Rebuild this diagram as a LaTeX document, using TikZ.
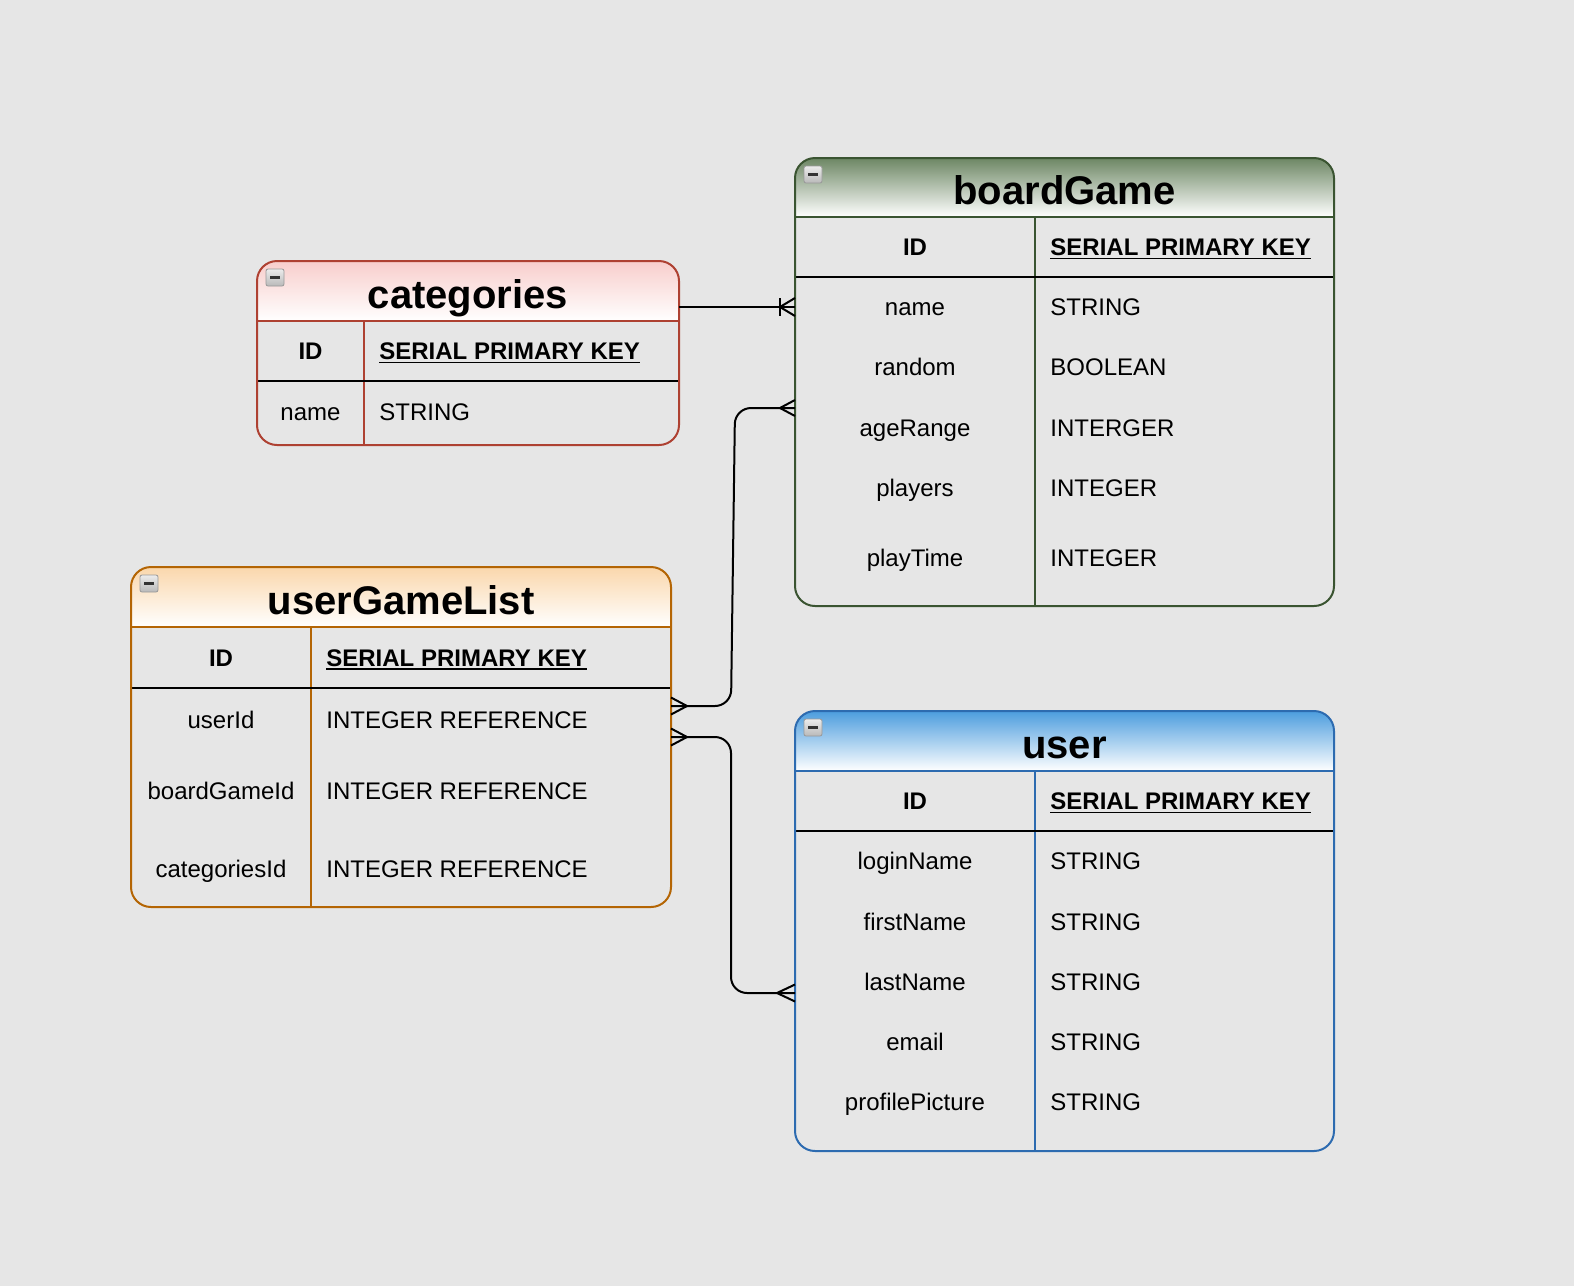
\documentclass[tikz,border=0pt]{standalone}
\usepackage{fontspec}
\setmainfont{Liberation Sans}
\usetikzlibrary{positioning,calc}

\definecolor{canvas}{HTML}{E6E6E6}
\definecolor{greenLine}{HTML}{3A5431}
\definecolor{greenTop}{HTML}{6D8764}
\definecolor{redLine}{HTML}{AE4132}
\definecolor{redTop}{HTML}{F8CECC}
\definecolor{orangeLine}{HTML}{B46504}
\definecolor{orangeTop}{HTML}{FAD7AC}
\definecolor{blueLine}{HTML}{2D6BB0}
\definecolor{blueTop}{HTML}{4C9DDE}

\tikzset{
  frame/.style={draw=#1, line width=1pt, rounded corners=10pt, rectangle,
    inner sep=0pt, outer sep=0pt},
  title/.style={anchor=base, inner sep=0pt,
    font=\fontsize{20}{24}\selectfont\bfseries},
  field/.style={anchor=base, inner sep=0pt, font=\fontsize{12}{14}\selectfont},
  fieldkey/.style={field, font=\fontsize{12}{14}\selectfont\bfseries},
  fieldtype/.style={field, anchor=base west},
  conn/.style={line width=1pt, black, rounded corners=8pt},
  crow/.style={line width=1pt, black},
}

\begin{document}
\begin{tikzpicture}[x=0.5pt, y=-0.5pt]
  \useasboundingbox (0,0) rectangle (1574,1286);
  \fill[canvas] (0,0) rectangle (1574,1286);

  % tables: name/left/top/right/bottom/title line/key line/divider/colours
  \foreach \nm/\xl/\yt/\xr/\yb/\yh/\yk/\xd/\lc/\tc in {
      boardGame/795/158/1334/606/217/277/1035/greenLine/greenTop,
      categories/257/261/679/445/321/381/364/redLine/redTop,
      userGameList/131/567/671/907/627/688/311/orangeLine/orangeTop,
      user/795/711/1334/1151/771/831/1035/blueLine/blueTop}
  {
    \pgfmathsetmacro{\xm}{(\xl+\xr)/2}
    \pgfmathsetmacro{\xc}{(\xl+\xd)/2}
    \pgfmathsetmacro{\yi}{(\yh+\yk)/2+8.5}
    \begin{scope}
      \clip[rounded corners=10pt] (\xl,\yt) rectangle (\xr,\yb);
      \shade[top color=\tc, bottom color=white] (\xl,\yt) rectangle (\xr,\yh);
    \end{scope}
    \draw[\lc, line width=1pt] (\xl,\yh) -- (\xr,\yh);
    \draw[\lc, line width=1pt] (\xd,\yh) -- (\xd,\yb);
    \draw[black, line width=1pt] (\xl,\yk) -- (\xr,\yk);
    \node[frame=\lc, anchor=north west, minimum width={(\xr-\xl)*0.5pt},
      minimum height={(\yb-\yt)*0.5pt}] (\nm) at (\xl,\yt) {};
    % collapse button
    \shade[top color=gray!15, bottom color=gray!55, draw=gray!80,
      line width=0.4pt, rounded corners=1pt] (\xl+9,\yt+8) rectangle +(18,17);
    \draw[black!80, line width=1.3pt] (\xl+13,\yt+16.5) -- +(10,0);
    \node[title] (\nm-title) at (\xm,\yh-12.5) {\nm};
    \node[fieldkey] (\nm-id) at (\xc,\yi) {ID};
    \node[fieldtype, font=\fontsize{12}{14}\selectfont\bfseries] (\nm-pk)
      at (\xd+15,\yi) {SERIAL PRIMARY KEY};
    \draw[line width=0.75pt] ([yshift=-1.6pt]\nm-pk.base west)
      -- ([yshift=-1.6pt]\nm-pk.base east);
  }

  % fields
  \foreach \f/\t/\y [count=\i] in {name/STRING/307, random/BOOLEAN/367,
      ageRange/INTERGER/428, players/INTEGER/488, playTime/INTEGER/558}
  {
    \node[field] (boardGame-f\i) at (915,\y+8.5) {\f};
    \node[fieldtype] (boardGame-t\i) at (1050,\y+8.5) {\t};
  }
  \foreach \f/\t/\y [count=\i] in {name/STRING/412}
  {
    \node[field] (categories-f\i) at (310.5,\y+8.5) {\f};
    \node[fieldtype] (categories-t\i) at (379,\y+8.5) {\t};
  }
  \foreach \f/\t/\y [count=\i] in {userId/INTEGER REFERENCE/720,
      boardGameId/INTEGER REFERENCE/791, categoriesId/INTEGER REFERENCE/869}
  {
    \node[field] (userGameList-f\i) at (221,\y+8.5) {\f};
    \node[fieldtype] (userGameList-t\i) at (326,\y+8.5) {\t};
  }
  \foreach \f/\t/\y [count=\i] in {loginName/STRING/861, firstName/STRING/922,
      lastName/STRING/982, email/STRING/1042, profilePicture/STRING/1102}
  {
    \node[field] (user-f\i) at (915,\y+8.5) {\f};
    \node[fieldtype] (user-t\i) at (1050,\y+8.5) {\t};
  }

  % relations
  \coordinate (r1) at (0,307);
  \coordinate (r2a) at (0,706);
  \coordinate (r2b) at (0,408);
  \coordinate (r3a) at (0,737);
  \coordinate (r3b) at (0,993);

  \coordinate (catOut) at (categories.east |- r1);
  \coordinate (bgIn1) at (boardGame.west |- r1);
  \coordinate (ugOut1) at (userGameList.east |- r2a);
  \coordinate (bgIn2) at (boardGame.west |- r2b);
  \coordinate (ugOut2) at (userGameList.east |- r3a);
  \coordinate (usIn) at (user.west |- r3b);

  \draw[conn] (catOut) -- (bgIn1);
  \draw[crow] (bgIn1) ++(0,-9) -- ++(-15,9) -- ++(15,9);
  \draw[crow] (bgIn1) ++(-15,-9) -- ++(0,18);

  \draw[conn] (ugOut1) -- (731,706) -- (735,408) -- (bgIn2);
  \draw[crow] (ugOut1) ++(0,-8.5) -- ++(16,8.5) -- ++(-16,8.5);
  \draw[crow] (bgIn2) ++(0,-8) -- ++(-15,8) -- ++(15,8);

  \draw[conn] (ugOut2) -- (731,737) -- (731,993) -- (usIn);
  \draw[crow] (ugOut2) ++(0,-8.5) -- ++(16,8.5) -- ++(-16,8.5);
  \draw[crow] (usIn) ++(0,-8.5) -- ++(-18,8.5) -- ++(18,8.5);
\end{tikzpicture}
\end{document}
